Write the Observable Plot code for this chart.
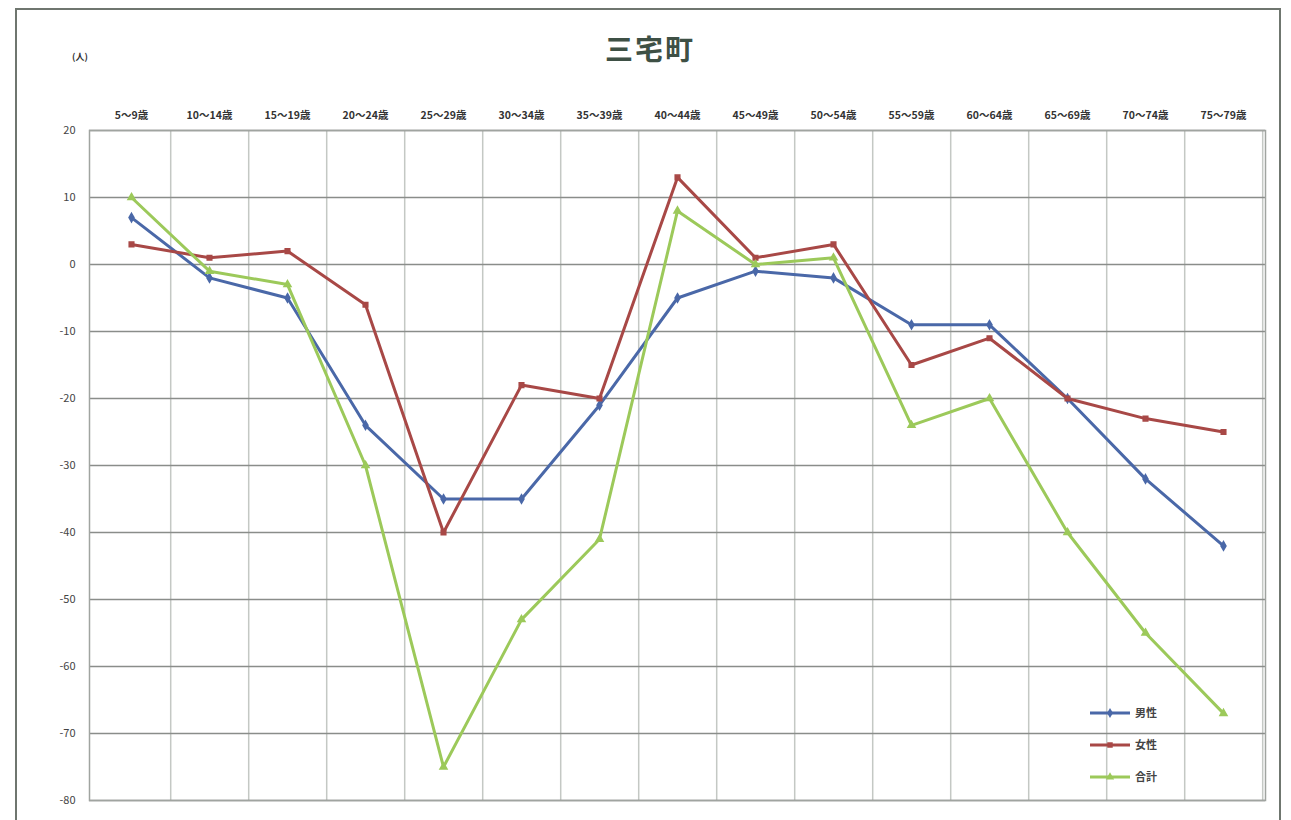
<!DOCTYPE html>
<html>
<head>
<meta charset="utf-8">
<script src="https://cdn.jsdelivr.net/npm/d3@7"></script>
<script src="https://cdn.jsdelivr.net/npm/@observablehq/plot@0.6"></script>
<style>
  html, body { margin: 0; padding: 0; background: #fff; }
  #wrap { position: relative; width: 1291px; height: 820px; overflow: hidden; font-family: "Noto Sans CJK JP", "Noto Sans", sans-serif; }
  #box { position: absolute; left: 15px; top: 8px; width: 1266px; height: 830px; border: 2px solid #6f766f; box-sizing: border-box; border-bottom: none; }
  #title { position: absolute; left: 0; width: 1300px; top: 28px; text-align: center; font-size: 28px; font-weight: bold; color: #3e5045; letter-spacing: 2px; }
  #unit { position: absolute; left: 72px; top: 50px; font-size: 9px; font-weight: bold; color: #333; }
  #chart { position: absolute; left: 0; top: 0; }
  #chart g[aria-label="x-axis tick label"] text { font-weight: bold; fill: #333; font-size: 10.5px; }
  #chart g[aria-label="y-axis tick label"] text { fill: #444; font-size: 11px; }
  #legend { position: absolute; left: 1085px; top: 700px; }
</style>
</head>
<body>
<div id="wrap">
  <div id="box"></div>
  <div id="title">三宅町</div>
  <div id="unit">(人)</div>
  <div id="chart"></div>
  <svg id="legend" width="120" height="95"></svg>
</div>
<script>
const categories = ["5～9歳","10～14歳","15～19歳","20～24歳","25～29歳","30～34歳","35～39歳","40～44歳","45～49歳","50～54歳","55～59歳","60～64歳","65～69歳","70～74歳","75～79歳"];
const male   = [7, -2, -5, -24, -35, -35, -21, -5, -1, -2, -9, -9, -20, -32, -42];
const female = [3, 1, 2, -6, -40, -18, -20, 13, 1, 3, -15, -11, -20, -23, -25];
const total  = [10, -1, -3, -30, -75, -53, -41, 8, 0, 1, -24, -20, -40, -55, -67];
const seriesNames = ["男性", "女性", "合計"];
const seriesColors = ["#4a68a8", "#a84846", "#9cc95a"];
const seriesSymbols = ["diamond", "square", "triangle"];
const yTicks = [20, 10, 0, -10, -20, -30, -40, -50, -60, -70, -80];

const seriesValues = [male, female, total];
const data = [];
seriesNames.forEach((s, i) => categories.forEach((c, j) => data.push({series: s, cat: c, value: seriesValues[i][j]})));

const W = 1291, H = 820, mL = 89, mR = 26, mT = 130, mB = 20;
const step = (W - mL - mR) / categories.length;

const chart = Plot.plot({
  width: W, height: H,
  marginTop: mT, marginBottom: mB, marginLeft: mL, marginRight: mR,
  style: {fontFamily: "'Noto Sans CJK JP', 'Noto Sans', sans-serif", fontSize: "10px", background: "transparent", color: "#333"},
  x: {type: "point", domain: categories, padding: 0.5, axis: "top", tickSize: 0, tickPadding: 12, label: null},
  y: {domain: [-80, 20], ticks: yTicks, tickSize: 0, tickPadding: 14, label: null, tickFormat: d => String(d)},
  color: {domain: seriesNames, range: seriesColors},
  symbol: {domain: seriesNames, range: seriesSymbols},
  marks: [
    Plot.ruleX(categories, {dx: step / 2, stroke: "#c4c8c4", strokeWidth: 1.5}),
    Plot.ruleY(yTicks, {stroke: "#8a8d8a", strokeWidth: 1.5}),
    Plot.frame({stroke: "#a0a4a0", strokeWidth: 1.5}),
    Plot.line(data, {x: "cat", y: "value", z: "series", stroke: "series", strokeWidth: 3}),
    Plot.dot(data, {x: "cat", y: "value", fill: "series", stroke: "series", symbol: "series", r: 2.6})
  ]
});
document.getElementById("chart").appendChild(chart);

// legend
const lg = d3.select("#legend");
const sym = [d3.symbolDiamond, d3.symbolSquare, d3.symbolTriangle];
seriesNames.forEach((s, i) => {
  const y = 13 + i * 32;
  lg.append("line").attr("x1", 5).attr("x2", 45).attr("y1", y).attr("y2", y)
    .attr("stroke", seriesColors[i]).attr("stroke-width", 3);
  lg.append("path").attr("d", d3.symbol(sym[i], 30)()).attr("transform", `translate(25,${y})`)
    .attr("fill", seriesColors[i]);
  lg.append("text").attr("x", 50).attr("y", y + 4).text(s)
    .attr("font-size", 11).attr("font-weight", "bold").attr("fill", "#444")
    .attr("font-family", "'Noto Sans CJK JP', sans-serif");
});
</script>
</body>
</html>
